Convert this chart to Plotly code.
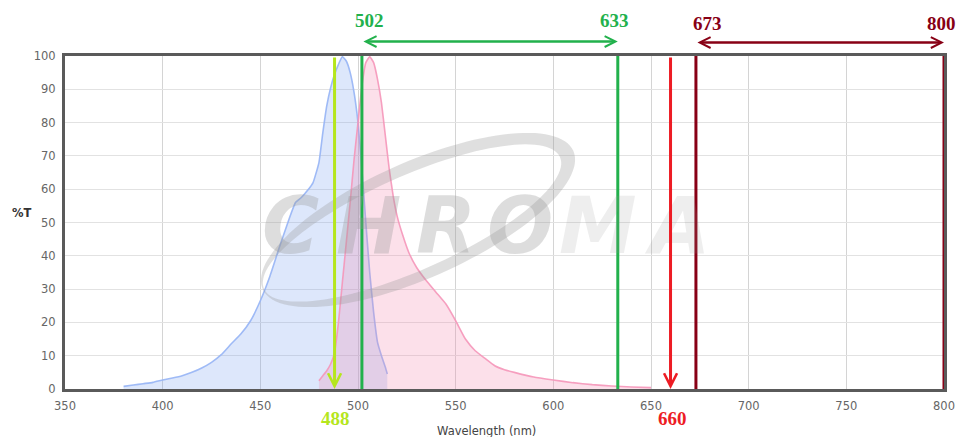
import numpy as np
import plotly.graph_objects as go

# Excitation spectrum (blue)
ex_wl = [380, 385, 390, 395, 400, 405, 410, 415, 420, 425, 430, 435, 440, 445,
         450, 455, 460, 465, 468, 471, 474, 477, 480, 482, 484, 486, 488, 490,
         492, 494, 496, 498, 500, 502, 504, 506, 508, 510, 512, 514, 515]
ex_val = [0.8, 1.2, 1.6, 2.0, 2.7, 3.3, 4.0, 5.0, 6.3, 8.0, 10.3, 13.5, 16.5, 20.5,
          26.5, 34, 43, 51.5, 56, 57.5, 59.5, 62, 68, 77, 85, 90.5, 94.5, 97.5,
          99.8, 98.5, 95, 89, 80, 66, 50, 35, 23, 14, 10, 6.5, 4.5]

# Emission spectrum (pink)
em_wl = [480, 482, 484, 486, 488, 490, 492, 494, 496, 498, 500, 502, 504, 506,
         508, 510, 512, 514, 516, 518, 520, 523, 526, 530, 535, 540, 545, 550,
         555, 560, 565, 570, 575, 580, 590, 600, 610, 620, 630, 640, 650]
em_val = [2.5, 4, 5.5, 7.5, 11, 20, 32, 44, 56, 69, 80, 91, 98, 99.8,
          98, 93, 86, 76, 66, 58, 52, 46, 41, 36.5, 32.5, 29, 25.5, 20.5,
          15, 11.5, 9.2, 7, 5.8, 5, 3.6, 2.7, 1.9, 1.3, 0.9, 0.6, 0.4]

# Laser lines and filter band edges (nm)
laser_ex = 488
laser_red = 660
band_green = [502, 633]
band_red = [673, 800]

x_ticks = [350, 400, 450, 500, 550, 600, 650, 700, 750, 800]
y_ticks = [0, 10, 20, 30, 40, 50, 60, 70, 80, 90, 100]

W, H = 958, 437
ML, MR, MT, MB = 65, 14, 56, 48
PW, PH = W - ML - MR, H - MT - MB


def px(x):
    return (x - ML) / PW


def py(y):
    return (H - MB - y) / PH


C_LIME = "#b5e61d"
C_GREEN = "#22b14c"
C_RED = "#ed1c24"
C_DARK = "#880015"

fig = go.Figure()

fig.add_trace(go.Scatter(
    x=ex_wl, y=ex_val, mode="lines", fill="tozeroy",
    line=dict(color="rgba(150,180,245,0.9)", width=1.6, shape="spline", smoothing=0.4),
    fillcolor="rgba(120,160,240,0.25)", hoverinfo="skip", showlegend=False))
fig.add_trace(go.Scatter(
    x=em_wl, y=em_val, mode="lines", fill="tozeroy",
    line=dict(color="rgba(245,150,185,0.9)", width=1.6, shape="spline", smoothing=0.4),
    fillcolor="rgba(245,130,170,0.25)", hoverinfo="skip", showlegend=False))

# Watermark swoosh (crescent) in pixel space
t = np.linspace(0, 2 * np.pi, 120)
ang = np.deg2rad(-24)


def ellipse(cx, cy, a, b):
    xs = cx + a * np.cos(t) * np.cos(ang) - b * np.sin(t) * np.sin(ang)
    ys = cy + a * np.cos(t) * np.sin(ang) + b * np.sin(t) * np.cos(ang)
    return xs, ys


ox, oy = ellipse(418, 220, 170, 58)
ix, iy = ellipse(412, 223, 162, 47)
path = "M" + " L".join(f"{px(a):.4f},{py(b):.4f}" for a, b in zip(ox, oy)) + " Z "
path += "M" + " L".join(f"{px(a):.4f},{py(b):.4f}" for a, b in zip(ix[::-1], iy[::-1])) + " Z"
fig.add_shape(type="path", path=path, xref="paper", yref="paper",
              fillcolor="rgba(150,150,150,0.30)", line=dict(width=0),
              fillrule="evenodd", layer="above")


def label(x0, y0, text, font):
    fig.add_annotation(x=px(x0), y=py(y0), xref="paper", yref="paper",
                       xanchor="center", yanchor="middle", text=text,
                       showarrow=False, font=font)


# Watermark letters
letters = ["C", "H", "R", "O", "M", "A"]
lx = [290, 368, 446, 520, 598, 677]
for ch, x0 in zip(letters, lx):
    col = "rgba(150,150,150,0.32)" if ch in "CHRO" else "rgba(150,150,150,0.16)"
    label(x0, 226, ch, dict(family="DejaVu Sans", size=78, color=col,
                            weight="bold", style="italic"))

# Filter band edges
for v in band_green:
    fig.add_shape(type="line", x0=v, x1=v, y0=0, y1=100, xref="x", yref="y",
                  line=dict(color=C_GREEN, width=3), layer="above")
for v in band_red:
    fig.add_shape(type="line", x0=v, x1=v, y0=0, y1=100, xref="x", yref="y",
                  line=dict(color=C_DARK, width=3), layer="above")

# Laser lines with down arrows
for v, col in [(laser_ex, C_LIME), (laser_red, C_RED)]:
    fig.add_annotation(x=v, y=0, ax=v, ay=100, xref="x", yref="y",
                       axref="x", ayref="y", showarrow=True, arrowhead=5,
                       arrowsize=0.85, arrowwidth=3, arrowcolor=col, text="",
                       startstandoff=0, standoff=0)

# Band double arrows
for (a, b), col, yy in [(band_green, C_GREEN, 41.5), (band_red, C_DARK, 42.5)]:
    fig.add_annotation(x=b, y=py(yy), ax=a, ay=py(yy), xref="x", yref="y domain",
                       axref="x", ayref="y domain", showarrow=True, arrowhead=5,
                       arrowside="end+start", arrowsize=0.85, arrowwidth=2.5,
                       arrowcolor=col, text="")

# Number labels
labels = [(band_green[0], 369, 20, C_GREEN), (band_green[1], 614, 20, C_GREEN),
          (band_red[0], 707, 24, C_DARK), (band_red[1], 941, 24, C_DARK),
          (laser_ex, 335, 418, C_LIME), (laser_red, 672, 418, C_RED)]
for val, x0, y0, col in labels:
    label(x0, y0, f"<b>{val}</b>", dict(family="Liberation Serif", size=19, color=col))

label(22, 213, "<b>%T</b>", dict(family="DejaVu Sans", size=11.5, color="#333"))
label(486, 431, "Wavelength (nm)", dict(family="DejaVu Sans", size=11.5, color="#444"))

fig.update_layout(
    width=W, height=H, autosize=False,
    margin=dict(l=ML, r=MR, t=MT, b=MB, autoexpand=False),
    paper_bgcolor="white", plot_bgcolor="white",
    xaxis=dict(range=[350, 800], tickvals=x_ticks, showgrid=True,
               gridcolor="#d4d4d4", gridwidth=1, showline=True, linecolor="#5a5a5a",
               linewidth=3, mirror=True, zeroline=False, ticks="",
               tickfont=dict(family="DejaVu Sans", size=11.5, color="#666"),
               ticklabelstandoff=4),
    yaxis=dict(range=[0, 100], tickvals=y_ticks, showgrid=True,
               gridcolor="#e2e2e2", gridwidth=1, showline=True, linecolor="#5a5a5a",
               linewidth=3, mirror=True, zeroline=False, ticks="",
               tickfont=dict(family="DejaVu Sans", size=11.5, color="#666"),
               ticklabelstandoff=4),
)

fig.write_html("out.html")
